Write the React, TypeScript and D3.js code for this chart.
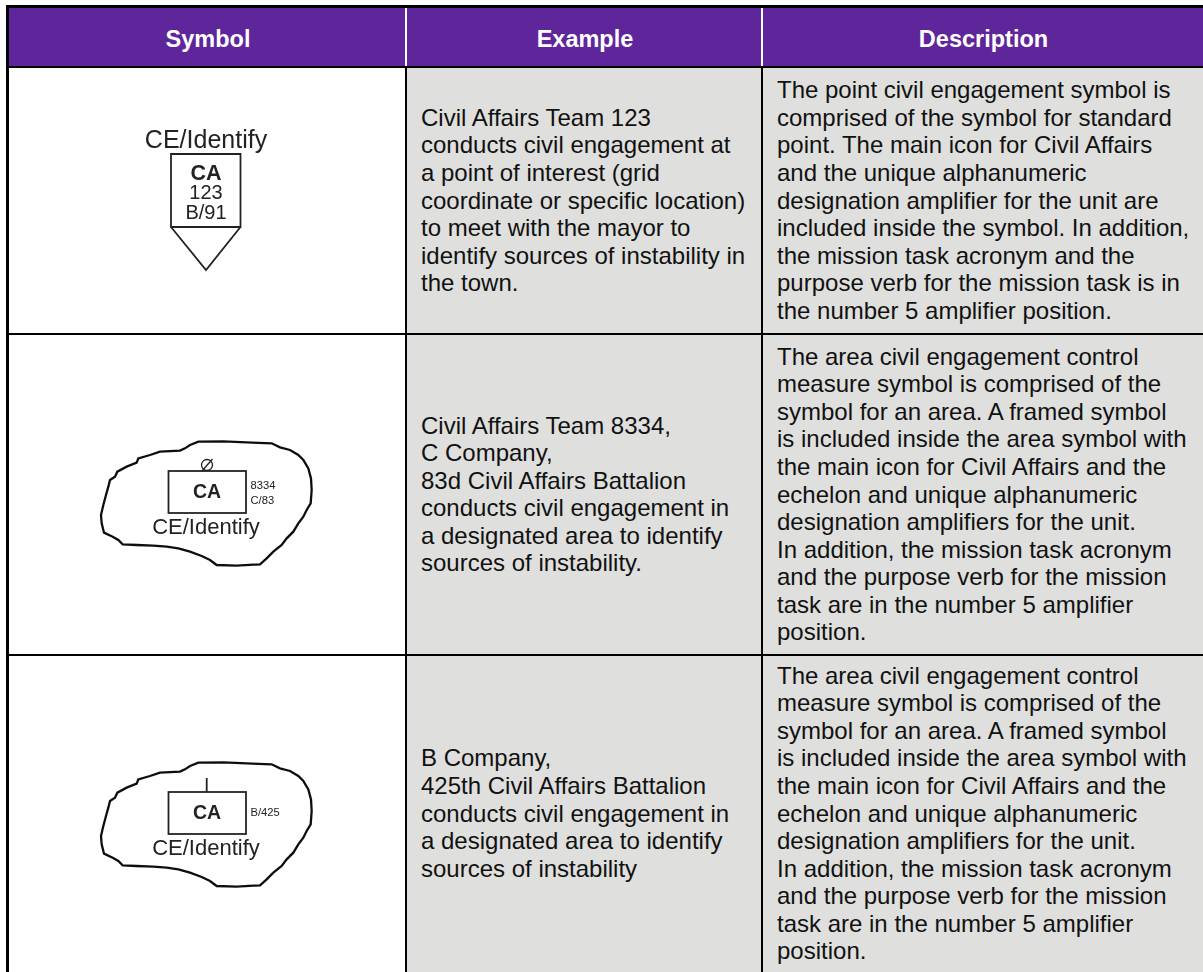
import React from 'react';
import * as d3 from 'd3';

const headers = ['Symbol', 'Example', 'Description'];

const exampleLines = [
  [
    'Civil Affairs Team 123',
    'conducts civil engagement at',
    'a point of interest (grid',
    'coordinate or specific location)',
    'to meet with the mayor to',
    'identify sources of instability in',
    'the town.',
  ],
  [
    'Civil Affairs Team 8334,',
    'C Company,',
    '83d Civil Affairs Battalion',
    'conducts civil engagement in',
    'a designated area to identify',
    'sources of instability.',
  ],
  [
    'B Company,',
    '425th Civil Affairs Battalion',
    'conducts civil engagement in',
    'a designated area to identify',
    'sources of instability',
  ],
];

const areaDescription = [
  'The area civil engagement control',
  'measure symbol is comprised of the',
  'symbol for an area. A framed symbol',
  'is included inside the area symbol with',
  'the main icon for Civil Affairs and the',
  'echelon and unique alphanumeric',
  'designation amplifiers for the unit.',
  'In addition, the mission task acronym',
  'and the purpose verb for the mission',
  'task are in the number 5 amplifier',
  'position.',
];

const descriptionLines = [
  [
    'The point civil engagement symbol is',
    'comprised of the symbol for standard',
    'point. The main icon for Civil Affairs',
    'and the unique alphanumeric',
    'designation amplifier for the unit are',
    'included inside the symbol. In addition,',
    'the mission task acronym and the',
    'purpose verb for the mission task is in',
    'the number 5 amplifier position.',
  ],
  areaDescription,
  areaDescription,
];

// hand traced outline of the area symbol, in units of 1/3 px
const areaOutline: [number, number][] = [
  [300, 75], [325, 65], [400, 64], [470, 67], [545, 70], [570, 82], [600, 90], [625, 105],
  [640, 120], [655, 145], [663, 175], [665, 210], [662, 250], [650, 270], [640, 290], [625, 310],
  [610, 335], [590, 355], [575, 375], [550, 395], [530, 415], [510, 433], [440, 437], [380, 435],
  [360, 420], [335, 408], [300, 395], [265, 385], [230, 380], [190, 377], [140, 375], [98, 373],
  [85, 360], [68, 350], [42, 338], [35, 310], [33, 285], [40, 255], [48, 225], [55, 200],
  [60, 180], [75, 170], [82, 155], [110, 140], [140, 128], [145, 115], [180, 105], [210, 95],
  [270, 92], [285, 85],
];

const WIDTH = 1203;
const HEIGHT = 972;
const PURPLE = '#5f259b';
const GREY = '#dfdfdd';
const FONT = '"Liberation Sans", Arial, sans-serif';

const columnEdges = [8, 406, 762, WIDTH];
const rowEdges = [67, 334, 655, HEIGHT];
const lineHeight = 27.55;

const outlineX = d3.scaleLinear().domain([0, 720]).range([90, 330]);
const outlineY = d3.scaleLinear().domain([0, 480]).range([0, 160]);

const outlinePath = d3
  .line<[number, number]>()
  .x(d => outlineX(d[0]))
  .y(d => outlineY(d[1]))
  .curve(d3.curveLinearClosed)(areaOutline) as string;

const TextBlock = ({ lines, x, mid }: { lines: string[]; x: number; mid: number }) => {
  const top = mid - ((lines.length - 1) * lineHeight) / 2 + 8;
  return (
    <text x={x} fontFamily={FONT} fontSize={24} fill="#111">
      {lines.map((l, i) => (
        <tspan key={i} x={x} y={top + i * lineHeight}>{l}</tspan>
      ))}
    </text>
  );
};

const PointSymbol = () => (
  <g fontFamily={FONT} textAnchor="middle" fill="#222" filter="url(#soft)">
    <text x={206} y={148} fontSize={25}>CE/Identify</text>
    <path d="M171,154H240.5V227H171Z M171,227L206,270L240.5,227" fill="none" stroke="#222" strokeWidth={1.8} />
    <text x={206} y={180} fontSize={21.5} fontWeight="bold">CA</text>
    <text x={206} y={199} fontSize={20}>123</text>
    <text x={206} y={219} fontSize={20}>B/91</text>
  </g>
);

const AreaSymbol = ({ dy, amplifiers, echelon }: { dy: number; amplifiers: string[]; echelon: 'team' | 'company' }) => {
  const ampBase = amplifiers.length > 1 ? 489 : 495;
  return (
    <g transform={`translate(0,${dy})`} fontFamily={FONT} fill="#222" filter="url(#soft)">
      <path d={outlinePath} transform="translate(0,420)" fill="none" stroke="#111" strokeWidth={2.3} />
      <rect x={168.5} y={471} width={77.5} height={42} fill="none" stroke="#222" strokeWidth={1.8} />
      {echelon === 'team' ? (
        <g fill="none" stroke="#222" strokeWidth={1.3}>
          <circle cx={207} cy={465} r={5.5} />
          <line x1={202} y1={471} x2={212.5} y2={459} />
        </g>
      ) : (
        <line x1={206.7} y1={457} x2={206.7} y2={471} stroke="#222" strokeWidth={1.8} />
      )}
      <text x={207} y={498} fontSize={19.5} fontWeight="bold" textAnchor="middle">CA</text>
      {amplifiers.map((a, i) => (
        <text key={a} x={250.5} y={ampBase + i * 15} fontSize={11.2}>{a}</text>
      ))}
      <text x={206} y={534} fontSize={22} textAnchor="middle">CE/Identify</text>
    </g>
  );
};

const App = () => {
  const rows = d3.range(3);
  return (
    <svg
      width={WIDTH}
      height={HEIGHT}
      style={{ position: 'absolute', left: 0, top: 0, background: '#fff' }}
    >
      <defs>
        <filter id="soft" x="-5%" y="-5%" width="110%" height="110%">
          <feGaussianBlur stdDeviation={0.35} />
        </filter>
      </defs>

      <rect x={columnEdges[0]} y={8} width={WIDTH - columnEdges[0]} height={rowEdges[0] - 8} fill={PURPLE} />
      <rect x={columnEdges[1]} y={rowEdges[0]} width={WIDTH - columnEdges[1]} height={HEIGHT - rowEdges[0]} fill={GREY} />

      {headers.map((h, i) => (
        <text
          key={h}
          x={(columnEdges[i] + columnEdges[i + 1]) / 2 + 1}
          y={47}
          textAnchor="middle"
          fontFamily={FONT}
          fontWeight="bold"
          fontSize={23.5}
          fill="#fff"
        >
          {h}
        </text>
      ))}

      {rows.map(r => {
        const mid = (rowEdges[r] + rowEdges[r + 1]) / 2;
        return (
          <g key={r}>
            <TextBlock lines={exampleLines[r]} x={421} mid={mid} />
            <TextBlock lines={descriptionLines[r]} x={777} mid={mid} />
          </g>
        );
      })}

      {/* grid */}
      <g stroke="#000">
        <line x1={6} x2={WIDTH} y1={6.5} y2={6.5} strokeWidth={3} />
        <line x1={7.5} x2={7.5} y1={5} y2={HEIGHT} strokeWidth={3} />
        {rowEdges.slice(0, 3).map(y => (
          <line key={y} x1={7} x2={WIDTH} y1={y} y2={y} strokeWidth={2} />
        ))}
        {columnEdges.slice(1, 3).map(x => (
          <line key={x} x1={x} x2={x} y1={rowEdges[0]} y2={HEIGHT} strokeWidth={2} />
        ))}
      </g>
      <g stroke="#fff" strokeWidth={2}>
        {columnEdges.slice(1, 3).map(x => (
          <line key={x} x1={x} x2={x} y1={8} y2={rowEdges[0] - 1} />
        ))}
      </g>

      <PointSymbol />
      <AreaSymbol dy={0} amplifiers={['8334', 'C/83']} echelon="team" />
      <AreaSymbol dy={321} amplifiers={['B/425']} echelon="company" />
    </svg>
  );
};

export default App;
